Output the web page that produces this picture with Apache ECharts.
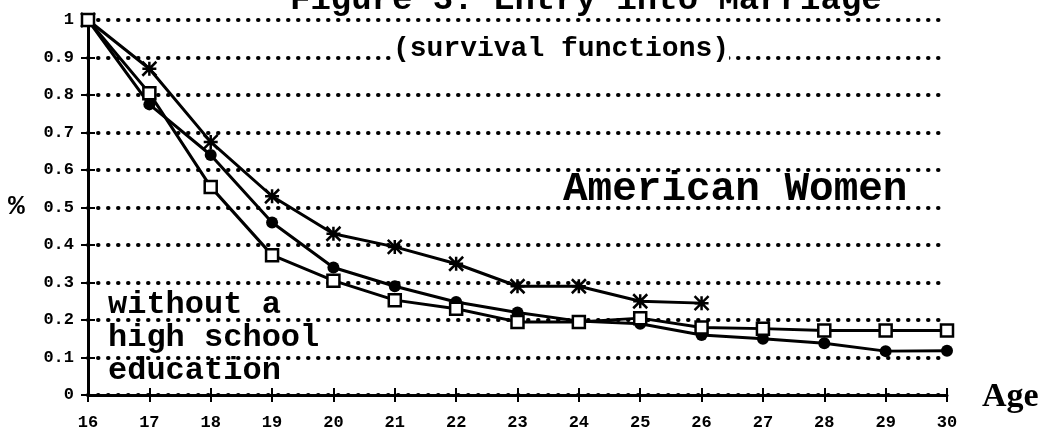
<!DOCTYPE html>
<html>
<head>
<meta charset="utf-8">
<script src="https://cdn.jsdelivr.net/npm/echarts@6/dist/echarts.min.js"></script>
<style>
  html, body { margin: 0; padding: 0; background: #fff; }
  #chart { width: 1053px; height: 436px; }
</style>
</head>
<body>
<div id="chart"></div>
<script>
// ages on the x axis
const ages = ['16', '17', '18', '19', '20', '21', '22', '23', '24', '25', '26', '27', '28', '29', '30'];
// y tick values
const yTicks = [0, 0.1, 0.2, 0.3, 0.4, 0.5, 0.6, 0.7, 0.8, 0.9, 1];

// survival curves
const starSeries = [1, 0.87, 0.675, 0.53, 0.43, 0.395, 0.35, 0.29, 0.29, 0.25, 0.245];
const dotSeries = [1, 0.775, 0.64, 0.46, 0.34, 0.29, 0.248, 0.22, 0.197, 0.19, 0.16, 0.15, 0.138, 0.117, 0.118];
const squareSeries = [1, 0.805, 0.555, 0.373, 0.305, 0.253, 0.23, 0.195, 0.195, 0.205, 0.18, 0.177, 0.172, 0.172, 0.172];

const ink = '#000';
const mono = '"Liberation Mono", "DejaVu Sans Mono", monospace';

const chart = echarts.init(document.getElementById('chart'));

const lineBase = {
    type: 'line',
    lineStyle: { color: ink, width: 3 },
    itemStyle: { color: ink },
    z: 5
};

chart.setOption({
    animation: false,
    backgroundColor: '#fff',
    grid: { left: 88, right: 106, top: 20, bottom: 41 },
    xAxis: [{
        type: 'category',
        data: ages,
        boundaryGap: false,
        axisLine: { lineStyle: { color: ink, width: 3 } },
        axisTick: { show: true, length: 7, lineStyle: { color: ink, width: 2 } },
        axisLabel: { color: ink, fontFamily: mono, fontWeight: 'bold', fontSize: 17, margin: 19 },
        splitLine: { show: false }
    }, {
        type: 'category',
        data: ages,
        boundaryGap: false,
        position: 'bottom',
        axisLine: { show: false },
        axisTick: { show: true, inside: true, length: 7, lineStyle: { color: ink, width: 2 } },
        axisLabel: { show: false },
        splitLine: { show: false }
    }],
    yAxis: [{
        type: 'value',
        min: 0,
        max: 1,
        interval: 0.1,
        axisLine: { show: true, lineStyle: { color: ink, width: 3 } },
        axisTick: { show: true, length: 7, lineStyle: { color: ink, width: 2 } },
        axisLabel: {
            color: ink, fontFamily: mono, fontWeight: 'bold', fontSize: 17, margin: 14,
            formatter: v => {
                const t = yTicks.find(k => Math.abs(k - v) < 1e-6);
                if (t === undefined) return '';
                return (t === 0 || t === 1) ? String(t) : t.toFixed(1);
            }
        },
        splitLine: {
            show: true,
            lineStyle: { color: ink, width: 4, type: [0.5, 9.5], cap: 'round' }
        }
    }, {
        type: 'value',
        min: 0,
        max: 1,
        interval: 0.1,
        position: 'left',
        axisLine: { show: false },
        axisTick: { show: true, inside: true, length: 7, lineStyle: { color: ink, width: 2 } },
        axisLabel: { show: false },
        splitLine: { show: false }
    }],
    series: [
        Object.assign({}, lineBase, {
            name: 'stars',
            data: starSeries,
            symbol: 'path://M0,0L10,10M10,0L0,10M5,0L5,10M0,5L10,5',
            symbolSize: 14,
            itemStyle: { color: ink, borderColor: ink, borderWidth: 2.5 }
        }),
        Object.assign({}, lineBase, {
            name: 'dots',
            data: dotSeries,
            symbol: 'circle',
            symbolSize: 12
        }),
        Object.assign({}, lineBase, {
            name: 'squares',
            data: squareSeries,
            symbol: 'rect',
            symbolSize: 12,
            itemStyle: { color: '#fff', borderColor: ink, borderWidth: 2.5 },
            z: 6
        })
    ],
    graphic: [
        {
            type: 'text', left: 290, top: -17,
            style: { text: 'Figure 3. Entry into Marriage', font: 'bold 34px ' + mono, fill: ink }
        },
        {
            type: 'text', left: 393, top: 35,
            style: { text: '(survival functions)', font: 'bold 28px ' + mono, fill: ink, backgroundColor: '#fff' },
            z: 10
        },
        {
            type: 'text', left: 563, top: 169,
            style: { text: 'American Women', font: 'bold 41px ' + mono, fill: ink },
            z: 10
        },
        {
            type: 'text', left: 108, top: 288,
            style: { text: 'without a\nhigh school\neducation', font: 'bold 32px ' + mono, lineHeight: 33, fill: ink },
            z: 10
        },
        {
            type: 'text', left: 8, top: 193,
            style: { text: '%', font: 'bold 28px ' + mono, fill: ink }
        },
        {
            type: 'text', left: 982, top: 380,
            style: { text: 'Age', font: 'bold 34px "Liberation Serif", serif', fill: ink }
        }
    ]
});
</script>
</body>
</html>
